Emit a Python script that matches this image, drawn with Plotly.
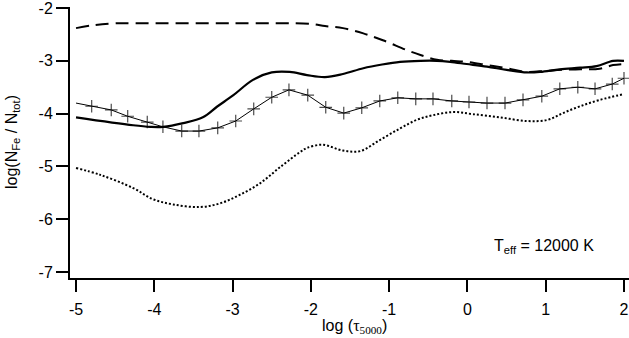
import plotly.graph_objects as go

# dashed curve
dash_x = [-5.0, -4.8, -4.5, -4.0, -3.0, -2.0, -1.82, -1.59, -1.33, -1.08, -0.77, -0.6,
          -0.39, -0.2, 0.0, 0.25, 0.5, 0.76, 1.0, 1.2, 1.44, 1.69, 1.86, 2.0]
dash_y = [-2.38, -2.33, -2.29, -2.29, -2.29, -2.3, -2.34, -2.38, -2.48, -2.61, -2.8, -2.89,
          -2.98, -3.0, -3.02, -3.08, -3.14, -3.21, -3.19, -3.17, -3.16, -3.15, -3.08, -3.06]

# thick solid curve
solid_x = [-5.0, -4.27, -4.05, -3.89, -3.63, -3.38, -3.2, -2.99, -2.74, -2.5, -2.27, -2.05,
           -1.82, -1.59, -1.33, -1.09, -0.86, -0.6, -0.39, -0.22, -0.01, 0.25, 0.5, 0.76,
           0.93, 1.18, 1.44, 1.65, 1.86, 2.0]
solid_y = [-4.07, -4.22, -4.25, -4.25, -4.18, -4.07, -3.87, -3.65, -3.36, -3.22, -3.21, -3.27,
           -3.31, -3.25, -3.14, -3.07, -3.02, -3.0, -3.0, -3.02, -3.06, -3.11, -3.17, -3.22,
           -3.21, -3.16, -3.13, -3.1, -3.0, -3.0]

# thin curve with + markers
plus_x = [-5.0, -4.8, -4.55, -4.34, -4.09, -3.89, -3.65, -3.43, -3.19, -2.96, -2.73, -2.5,
          -2.28, -2.04, -1.81, -1.58, -1.35, -1.12, -0.89, -0.66, -0.44, -0.2, 0.02, 0.25,
          0.48, 0.71, 0.95, 1.18, 1.41, 1.63, 1.85, 2.0]
plus_y = [-3.8, -3.86, -3.93, -4.05, -4.16, -4.25, -4.33, -4.33, -4.27, -4.14, -3.91, -3.69,
          -3.55, -3.65, -3.88, -3.99, -3.89, -3.76, -3.7, -3.72, -3.72, -3.76, -3.78, -3.8,
          -3.8, -3.74, -3.67, -3.53, -3.5, -3.53, -3.44, -3.33]

# dotted curve
dot_x = [-5.0, -4.69, -4.27, -4.02, -3.76, -3.42, -3.16, -2.91, -2.65, -2.39, -2.14, -2.05,
         -1.85, -1.59, -1.37, -1.12, -0.86, -0.65, -0.44, -0.18, 0.07, 0.41, 0.76, 1.02,
         1.22, 1.44, 1.69, 2.0]
dot_y = [-5.03, -5.16, -5.41, -5.62, -5.72, -5.77, -5.7, -5.54, -5.32, -5.01, -4.73, -4.65,
         -4.59, -4.7, -4.71, -4.5, -4.28, -4.12, -4.03, -3.97, -4.01, -4.07, -4.14, -4.12,
         -3.99, -3.86, -3.74, -3.63]

x_ticks = [-5, -4, -3, -2, -1, 0, 1, 2]
y_ticks = [-7, -6, -5, -4, -3, -2]

FONT = "Liberation Sans, Arial, sans-serif"

fig = go.Figure()
fig.add_trace(go.Scatter(x=dash_x, y=dash_y, mode="lines", line_shape="spline",
                         line=dict(color="black", width=2, dash="13px,7px")))
fig.add_trace(go.Scatter(x=solid_x, y=solid_y, mode="lines", line_shape="spline",
                         line=dict(color="black", width=2.2)))
fig.add_trace(go.Scatter(x=dot_x, y=dot_y, mode="lines", line_shape="spline",
                         line=dict(color="black", width=2, dash="2px,2px")))
fig.add_trace(go.Scatter(x=plus_x, y=plus_y, mode="lines+markers",
                         line=dict(color="black", width=1),
                         marker=dict(symbol="cross-thin", size=[0] + [9] * (len(plus_x) - 1),
                                     color="black",
                                     line=dict(color="black", width=1.2))))

fig.add_annotation(x=0.983, y=-6.51, xref="x", yref="y",
                   text="T<sub>eff</sub> = 12000 K", showarrow=False,
                   font=dict(family=FONT, size=16, color="black"))
fig.add_annotation(x=(354 - 70) / 559, y=(278 - 326) / 271, xref="paper", yref="paper",
                   text="log (<span style='font-family:Liberation Serif'>τ<sub>5000</sub></span>)",
                   showarrow=False, xanchor="center", yanchor="middle",
                   font=dict(family=FONT, size=16, color="black"))
fig.add_annotation(x=(12 - 70) / 559, y=(278 - 142) / 271, xref="paper", yref="paper",
                   text="log(N<sub>Fe</sub> / N<sub>tot</sub>)", textangle=-90,
                   showarrow=False, xanchor="center", yanchor="middle",
                   font=dict(family=FONT, size=16, color="black"))

axis_style = dict(showgrid=False, zeroline=False, automargin=False,
                  showline=True, linecolor="black", linewidth=2,
                  ticks="outside", ticklen=12, tickwidth=2, tickcolor="black",
                  ticklabeloverflow="allow", tickfont=dict(family=FONT, size=16, color="black"))

fig.update_layout(
    width=629, height=338,
    margin=dict(l=70, r=0, t=7, b=60),
    plot_bgcolor="white", paper_bgcolor="white",
    showlegend=False,
    font=dict(family=FONT, size=15, color="black"),
    xaxis=dict(range=[-5.077, 2.064], tickvals=x_ticks, ticklabelstandoff=4,
               ticktext=[str(v) for v in x_ticks], **axis_style),
    yaxis=dict(range=[-7.114, -1.98], tickvals=y_ticks,
               ticktext=[str(v) for v in y_ticks], **axis_style),
)

# drop the browser's default body margin so the figure sits at the page corner
fig.write_html("out.html", config={"displayModeBar": False},
               post_script="document.body.style.margin='0';")
